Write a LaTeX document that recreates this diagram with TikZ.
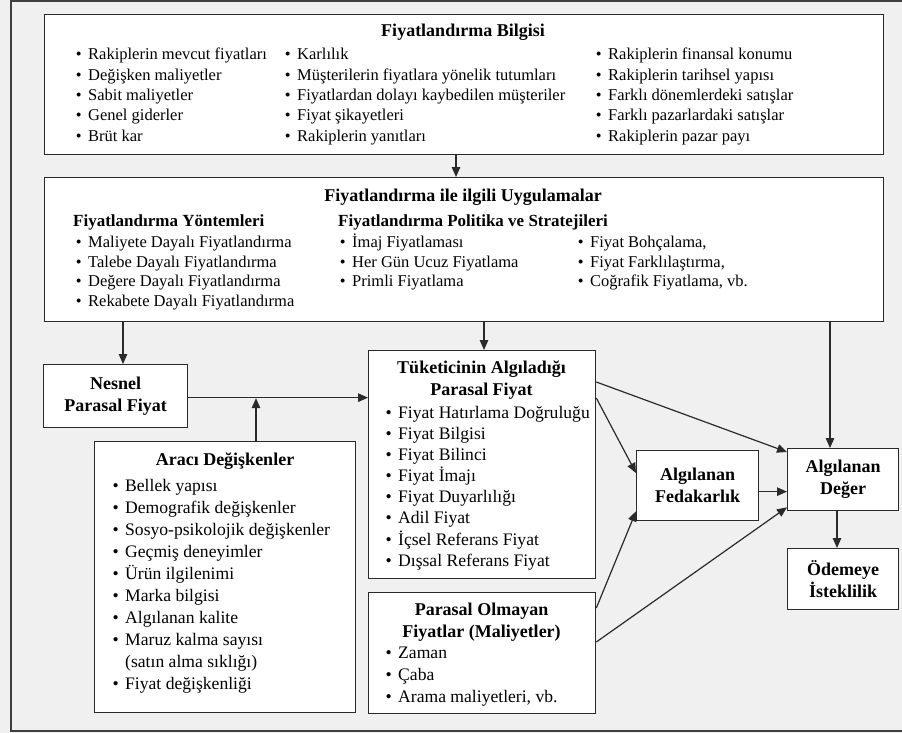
\documentclass[tikz,border=0pt]{standalone}
\usepackage{fontspec}
\setmainfont{Liberation Serif}
\usetikzlibrary{arrows.meta}
\definecolor{bg}{HTML}{F0F0F0}
\definecolor{ln}{HTML}{2A2A2A}
\newcommand\blt{\llap{\textbullet\hspace{6.5pt}}}
\begin{document}
\begin{tikzpicture}[x=1pt,y=-1pt,
  box/.style={draw=ln, line width=1.3pt, fill=white, inner sep=0pt, anchor=north west},
  ttl/.style={font=\fontsize{18}{22}\selectfont\bfseries, align=center, inner sep=0pt},
  sub/.style={font=\fontsize{17}{20}\selectfont\bfseries, anchor=base west, inner sep=0pt},
  itA/.style={font=\fontsize{16.5}{20}\selectfont, anchor=base west, inner sep=0pt},
  itB/.style={font=\fontsize{17.6}{21}\selectfont, anchor=base west, inner sep=0pt},
  arr/.style={draw=ln, line width=1.2pt, -{Triangle[length=10pt,width=8.5pt]}}]
% canvas
\fill[bg] (0,0) rectangle (902,733);
\useasboundingbox (0,0) rectangle (902,733);
\draw[draw=ln!90, line width=1.4pt] (903,1) -- (11,1) -- (11,731) -- (903,731);

% boxes
\node[box, minimum width=839pt, minimum height=140pt] (b1) at (44,14) {};
\node[box, minimum width=839pt, minimum height=144pt] (b2) at (44,177) {};
\node[box, ttl, minimum width=144pt, minimum height=63pt] (nes) at (43,364) {Nesnel\\Parasal Fiyat};
\node[box, minimum width=261pt, minimum height=271pt] (ara) at (94,441) {};
\node[box, minimum width=227pt, minimum height=228pt] (tuk) at (368,350) {};
\node[box, minimum width=227pt, minimum height=121pt] (par) at (368,592) {};
\node[box, ttl, minimum width=122pt, minimum height=70pt] (fed) at (636,450) {Algılanan\\Fedakarlık};
\node[box, ttl, minimum width=111pt, minimum height=62pt] (deg) at (787,448) {Algılanan\\Değer};
\node[box, ttl, minimum width=111pt, minimum height=61pt] (ode) at (787,548) {Ödemeye\\İsteklilik};

% box 1 text
\node[ttl] (t1) at (463,32) {Fiyatlandırma Bilgisi};
\foreach \t [count=\i] in {Rakiplerin mevcut fiyatları, Değişken maliyetler, Sabit maliyetler, Genel giderler, Brüt kar}
  \node[itA] (pa\i) at (88,{60+(\i-1)*20.3}) {\blt\t};
\foreach \t [count=\i] in {Karlılık, Müşterilerin fiyatlara yönelik tutumları, Fiyatlardan dolayı kaybedilen müşteriler, Fiyat şikayetleri, Rakiplerin yanıtları}
  \node[itA] (pb\i) at (297,{60+(\i-1)*20.3}) {\blt\t};
\foreach \t [count=\i] in {Rakiplerin finansal konumu, Rakiplerin tarihsel yapısı, Farklı dönemlerdeki satışlar, Farklı pazarlardaki satışlar, Rakiplerin pazar payı}
  \node[itA] (pc\i) at (608,{60+(\i-1)*20.3}) {\blt\t};

% box 2 text
\node[ttl] (t2) at (463,197) {Fiyatlandırma ile ilgili Uygulamalar};
\node[sub] (s1) at (73,226) {Fiyatlandırma Yöntemleri};
\node[sub] (s2) at (338,226) {Fiyatlandırma Politika ve Stratejileri};
\foreach \t [count=\i] in {Maliyete Dayalı Fiyatlandırma, Talebe Dayalı Fiyatlandırma, Değere Dayalı Fiyatlandırma, Rekabete Dayalı Fiyatlandırma}
  \node[itA] (qa\i) at (88,{247.5+(\i-1)*19.7}) {\blt\t};
\foreach \t [count=\i] in {İmaj Fiyatlaması, Her Gün Ucuz Fiyatlama, Primli Fiyatlama}
  \node[itA] (qb\i) at (352,{247.5+(\i-1)*19.7}) {\blt\t};
\foreach \t [count=\i] in {{Fiyat Bohçalama,}, {Fiyat Farklılaştırma,}, {Coğrafik Fiyatlama, vb.}}
  \node[itA] (qc\i) at (590,{247.5+(\i-1)*19.7}) {\blt\t};

% Tüketicinin
\node[ttl] (t3) at (481.5,380) {Tüketicinin Algıladığı\\Parasal Fiyat};
\foreach \t [count=\i] in {Fiyat Hatırlama Doğruluğu, Fiyat Bilgisi, Fiyat Bilinci, Fiyat İmajı, Fiyat Duyarlılığı, Adil Fiyat, İçsel Referans Fiyat, Dışsal Referans Fiyat}
  \node[itB] (ra\i) at (398,{418.2+(\i-1)*21.15}) {\blt\t};

% Aracı
\node[ttl] (t4) at (225,461) {Aracı Değişkenler};
\foreach \t [count=\i] in {\blt Bellek yapısı, \blt Demografik değişkenler, \blt Sosyo-psikolojik değişkenler, \blt Geçmiş deneyimler, \blt Ürün ilgilenimi, \blt Marka bilgisi, \blt Algılanan kalite, \blt Maruz kalma sayısı, (satın alma sıklığı), \blt Fiyat değişkenliği}
  \node[itB] (sa\i) at (125,{491.6+(\i-1)*21.95}) {\t};

% Parasal Olmayan
\node[ttl] (t5) at (481.5,622) {Parasal Olmayan\\Fiyatlar (Maliyetler)};
\foreach \t [count=\i] in {Zaman, Çaba, {Arama maliyetleri, vb.}}
  \node[itB] (ua\i) at (398,{658.5+(\i-1)*22}) {\blt\t};

% connectors
\coordinate (xa) at (456,0);
\coordinate (xb) at (123,0);
\coordinate (xc) at (484,0);
\coordinate (xd) at (830,0);
\coordinate (xe) at (256,0);
\coordinate (xf) at (837,0);
\draw[arr] (xa |- b1.south) -- (xa |- b2.north);
\draw[arr] (xb |- b2.south) -- (xb |- nes.north);
\draw[arr] (xc |- b2.south) -- (xc |- tuk.north);
\draw[arr] (xd |- b2.south) -- (xd |- deg.north);
\draw[arr] ([yshift=-1.5pt]nes.east) -- ([yshift=-1.5pt]nes.east -| tuk.west);
\draw[arr] (xe |- ara.north) -- ([yshift=-2pt]xe |- nes.east);
\draw[arr] ([yshift=-32pt]tuk.north east) -- ([yshift=-4pt]deg.north west);
\draw[arr] ([yshift=-48pt]tuk.north east) -- ([yshift=-23pt]fed.north west);
\draw[arr] ([yshift=-16pt]par.north east) -- ([yshift=10pt]fed.south west);
\draw[arr] ([yshift=-50pt]par.north east) -- ([yshift=4pt]deg.south west);
\draw[arr] ([yshift=-6pt]fed.east) -- ([yshift=-6pt]fed.east -| deg.west);
\draw[arr] (xf |- deg.south) -- (xf |- ode.north);
\end{tikzpicture}
\end{document}
